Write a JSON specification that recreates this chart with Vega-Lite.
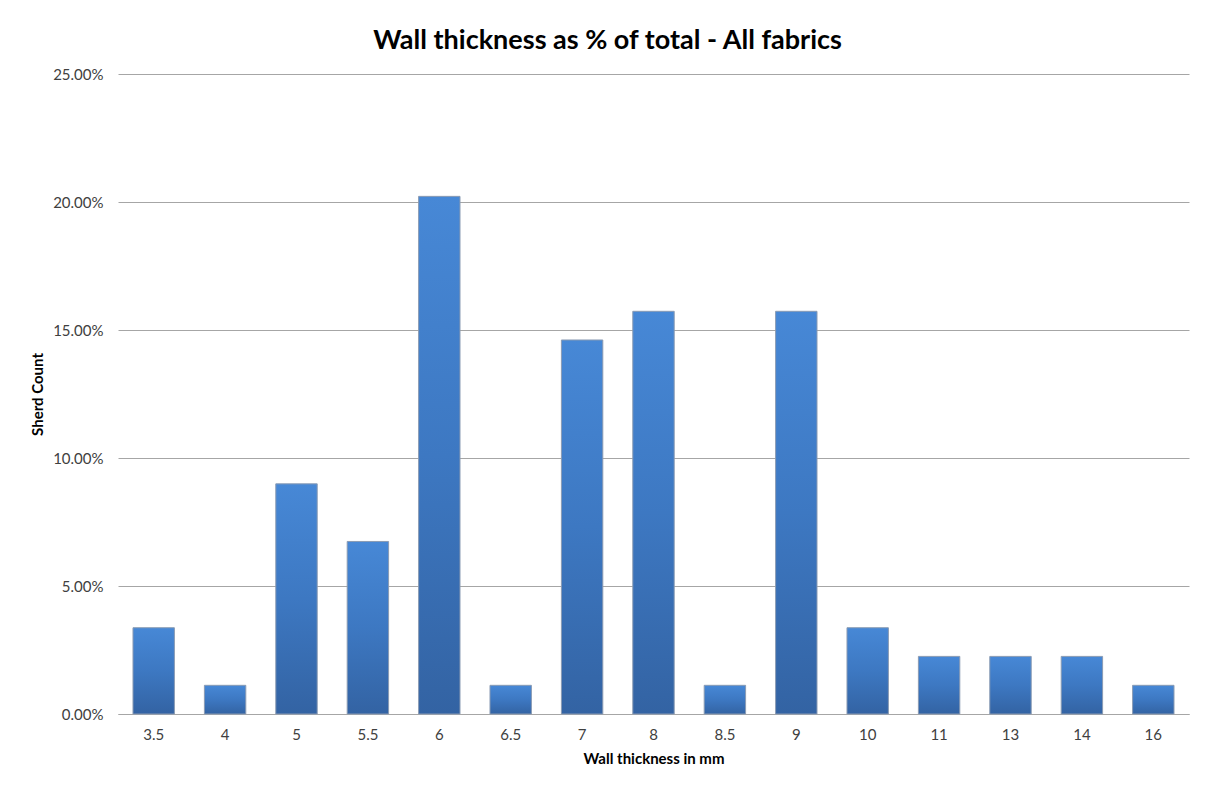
{
  "$schema": "https://vega.github.io/schema/vega-lite/v6.json",
  "width": 1071,
  "height": 640,
  "autosize": {"type": "none"},
  "padding": {"left": 118, "top": 74, "right": 22, "bottom": 71},
  "background": "white",
  "title": {
    "text": "Wall thickness as % of total - All fabrics",
    "font": "Lato",
    "fontSize": 27,
    "fontWeight": "bold",
    "color": "#000000",
    "anchor": "middle",
    "dx": -46,
    "offset": 12
  },
  "data": {
    "values": [
      {"thickness": "3.5", "share": 0.0337},
      {"thickness": "4", "share": 0.0112},
      {"thickness": "5", "share": 0.0899},
      {"thickness": "5.5", "share": 0.0674},
      {"thickness": "6", "share": 0.2022},
      {"thickness": "6.5", "share": 0.0112},
      {"thickness": "7", "share": 0.1461},
      {"thickness": "8", "share": 0.1573},
      {"thickness": "8.5", "share": 0.0112},
      {"thickness": "9", "share": 0.1573},
      {"thickness": "10", "share": 0.0337},
      {"thickness": "11", "share": 0.0225},
      {"thickness": "13", "share": 0.0225},
      {"thickness": "14", "share": 0.0225},
      {"thickness": "16", "share": 0.0112}
    ]
  },
  "mark": {
    "type": "bar",
    "color": {
      "gradient": "linear",
      "x1": 0, "y1": 0, "x2": 0, "y2": 1,
      "stops": [
        {"offset": 0, "color": "#4788d6"},
        {"offset": 0.5, "color": "#3d78c2"},
        {"offset": 1, "color": "#3363a3"}
      ]
    },
    "stroke": "#8a9bb3",
    "strokeWidth": 1
  },
  "encoding": {
    "x": {
      "field": "thickness",
      "type": "ordinal",
      "sort": null,
      "scale": {"paddingInner": 0.42, "paddingOuter": 0.21},
      "axis": {
        "title": "Wall thickness in mm",
        "titleFont": "Lato",
        "titleFontSize": 15,
        "titleFontWeight": "bold",
        "titleColor": "#000000",
        "titlePadding": 9,
        "labelFont": "Lato",
        "labelFontSize": 15,
        "labelColor": "#404040",
        "labelAngle": 0,
        "labelPadding": 13,
        "ticks": false,
        "domainColor": "#a6a6a6",
        "domainWidth": 1
      }
    },
    "y": {
      "field": "share",
      "type": "quantitative",
      "scale": {"domain": [0, 0.25]},
      "axis": {
        "title": "Sherd Count",
        "titleFont": "Lato",
        "titleFontSize": 15,
        "titleFontWeight": "bold",
        "titleColor": "#000000",
        "titlePadding": 7,
        "format": ".2%",
        "values": [0, 0.05, 0.1, 0.15, 0.2, 0.25],
        "labelFont": "Lato",
        "labelFontSize": 15,
        "labelColor": "#404040",
        "labelPadding": 15,
        "ticks": false,
        "domain": false,
        "grid": true,
        "gridColor": "#a6a6a6",
        "gridWidth": 1
      }
    }
  },
  "config": {"view": {"stroke": null}}
}
